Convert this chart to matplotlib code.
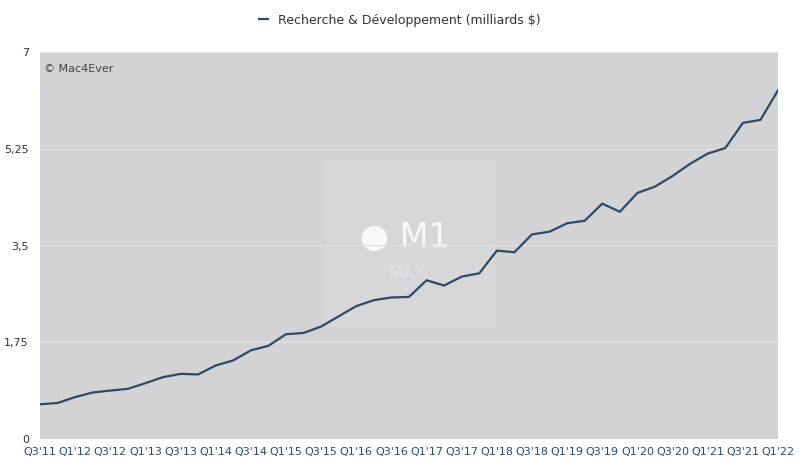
import matplotlib
matplotlib.use("Agg")
import matplotlib.pyplot as plt
from matplotlib.patches import Rectangle

quarters = []
for y in range(11, 23):
    for q in range(1, 5):
        quarters.append(f"Q{q}'{y}")
quarters = quarters[2:2+43]
values = [0.628, 0.651, 0.758, 0.841, 0.876, 0.907, 1.010, 1.119, 1.178, 1.168,
          1.330, 1.422, 1.603, 1.686, 1.895, 1.918, 2.034, 2.220, 2.404, 2.511,
          2.560, 2.570, 2.871, 2.776, 2.937, 2.997, 3.407, 3.378, 3.701, 3.750,
          3.902, 3.948, 4.257, 4.110, 4.451, 4.565, 4.758, 4.978, 5.163, 5.262,
          5.717, 5.772, 6.306]
yticks = [0, 1.75, 3.5, 5.25, 7]
ytick_labels = ["0", "1,75", "3,5", "5,25", "7"]
series_name = "Recherche & Développement (milliards $)"

fig = plt.figure(figsize=(8, 4.65), dpi=100)
ax = fig.add_axes([40/800, 1-439/465, 738/800, 387/465])
ax.set_facecolor("#d3d3d6")
x = list(range(len(values)))
ax.plot(x, values, color="#2e4a66", lw=1.6, label=series_name)
ax.set_xlim(0, len(values)-1)
ax.set_ylim(0, 7)
ax.set_yticks(yticks)
ax.set_yticklabels(ytick_labels)
ax.set_xticks(x[::2])
ax.set_xticklabels(quarters[::2])
ax.tick_params(axis="x", colors="#2e4a66", labelsize=8, length=0, pad=6)
ax.tick_params(axis="y", colors="#333333", labelsize=8, length=0, pad=8)
ax.grid(axis="y", color="#e0e0e3", lw=0.8)
for s in ax.spines.values():
    s.set_visible(False)
ax.axhline(0, color="#b0b0b0", lw=1)
# watermark box
ax.add_patch(Rectangle((16.3, 2.0), 9.6, 5.05-2.0, facecolor="#d9d9db", edgecolor="none", alpha=0.7, zorder=0))
ax.text(18.2, 3.65, "\u25CF M1", color="white", fontsize=24, ha="left", va="center", alpha=0.85, zorder=1)
ax.text(19.8, 3.0, "MAX", color="#e4dcec", fontsize=12, ha="left", va="center", zorder=1)
ax.text(0.2, 6.7, "© Mac4Ever", fontsize=8, color="#444444", va="center")
fig.legend(loc="upper center", bbox_to_anchor=(0.5, 0.995), frameon=False, fontsize=9,
           handlelength=0.7, labelcolor="#333333")
fig.savefig("out.png", dpi=100)
